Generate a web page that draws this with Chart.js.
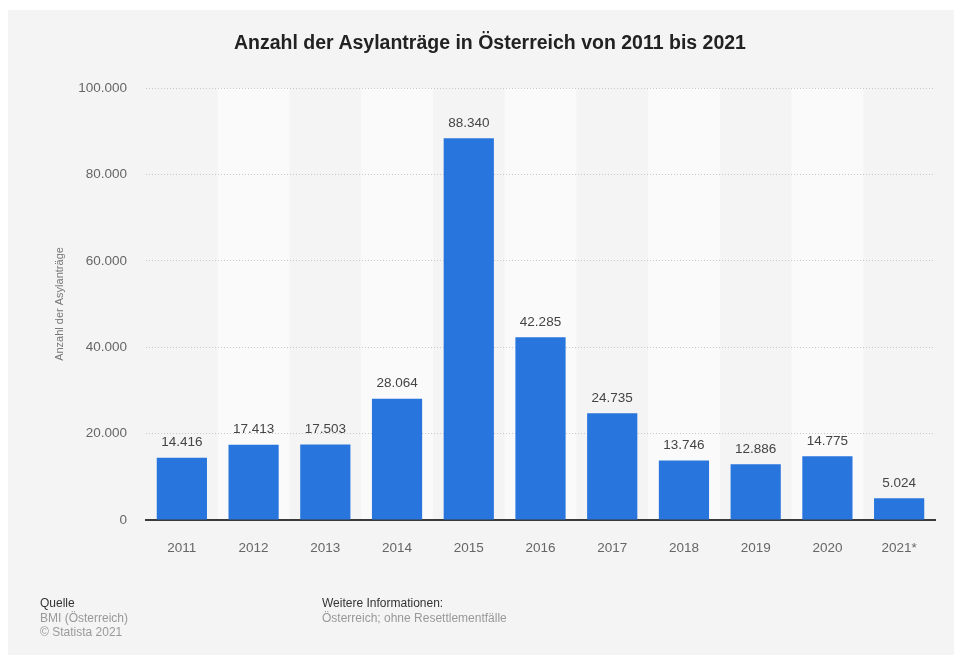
<!DOCTYPE html>
<html>
<head>
<meta charset="utf-8">
<script src="https://cdn.jsdelivr.net/npm/chart.js@4.4.1/dist/chart.umd.min.js"></script>
<style>
  body { margin: 0; background: #fff; font-family: "Liberation Sans", Arial, sans-serif; }
  #wrap { position: relative; width: 960px; height: 664px; }
  #chart { position: absolute; left: 0; top: 0; }
  .title { position: absolute; left: 20px; width: 940px; top: 31px; line-height: 22px;
           text-align: center; font-weight: bold; font-size: 19.5px; color: #222; }
  .foot { position: absolute; font-size: 12px; line-height: 14.5px; color: #999; }
  .foot b { font-weight: normal; color: #333; }
</style>
</head>
<body>
<div id="wrap">
  <canvas id="chart" width="960" height="664"></canvas>
  <div class="title">Anzahl der Asylanträge in Österreich von 2011 bis 2021</div>
  <div class="foot" style="left:40px; top:596px;"><b>Quelle</b><br>BMI (Österreich)<br>© Statista 2021</div>
  <div class="foot" style="left:322px; top:596px;"><b>Weitere Informationen:</b><br>Österreich; ohne Resettlementfälle</div>
</div>
<script>
const years = ['2011', '2012', '2013', '2014', '2015', '2016', '2017', '2018', '2019', '2020', '2021*'];
const antraege = [14416, 17413, 17503, 28064, 88340, 42285, 24735, 13746, 12886, 14775, 5024];
const yTicks = [0, 20000, 40000, 60000, 80000, 100000];

Chart.defaults.font.family = '"Liberation Sans", Arial, sans-serif';

function fmt(v) {
    return String(v).replace(/\B(?=(\d{3})+(?!\d))/g, '.');
}

// card background and alternating column bands
const backdrop = {
    id: 'backdrop',
    beforeDraw(chart) {
        const ctx = chart.ctx;
        const area = chart.chartArea;
        const x = chart.scales.x;
        ctx.save();
        ctx.fillStyle = '#f4f4f4';
        ctx.fillRect(8, 10, 946, 645);
        const w = (area.right - area.left) / years.length;
        ctx.fillStyle = '#fafafa';
        years.forEach((y, i) => {
            if (i % 2 === 1) {
                const cx = x.getPixelForValue(i);
                ctx.fillRect(cx - w / 2, area.top, w, area.bottom - area.top);
            }
        });
        ctx.restore();
    }
};

const valueLabels = {
    id: 'valueLabels',
    afterDatasetsDraw(chart) {
        const ctx = chart.ctx;
        const meta = chart.getDatasetMeta(0);
        ctx.save();
        ctx.font = '13.5px "Liberation Sans", Arial, sans-serif';
        ctx.fillStyle = '#444';
        ctx.textAlign = 'center';
        ctx.textBaseline = 'middle';
        meta.data.forEach((bar, i) => {
            ctx.fillText(fmt(antraege[i]), bar.x, bar.y - 15);
        });
        ctx.restore();
    }
};

new Chart(document.getElementById('chart').getContext('2d'), {
    type: 'bar',
    data: {
        labels: years,
        datasets: [{
            label: 'Anzahl der Asylanträge',
            data: antraege,
            backgroundColor: '#2876dd',
            categoryPercentage: 1,
            barPercentage: 0.7
        }]
    },
    options: {
        responsive: false,
        animation: false,
        devicePixelRatio: 1,
        layout: { padding: { left: 49, right: 25, top: 88, bottom: 100 } },
        plugins: {
            legend: { display: false },
            tooltip: { enabled: false }
        },
        scales: {
            x: {
                grid: { display: false },
                border: { color: '#3a3a3a', width: 2 },
                ticks: { color: '#666', font: { size: 13.5 }, padding: 12 },
                afterFit(scale) { scale.height = 44; }
            },
            y: {
                min: 0,
                max: 100000,
                afterBuildTicks(scale) { scale.ticks = yTicks.map(v => ({ value: v })); },
                grid: { color: '#c8c8c8', drawTicks: false, lineWidth: 1 },
                border: { display: false, dash: [1, 2] },
                ticks: { color: '#666', font: { size: 13.5 }, padding: 19, callback: v => fmt(v) },
                title: { display: true, text: 'Anzahl der Asylanträge', color: '#777', font: { size: 11 } },
                afterFit(scale) { scale.width = 97; }
            }
        }
    },
    plugins: [backdrop, valueLabels]
});
</script>
</body>
</html>
